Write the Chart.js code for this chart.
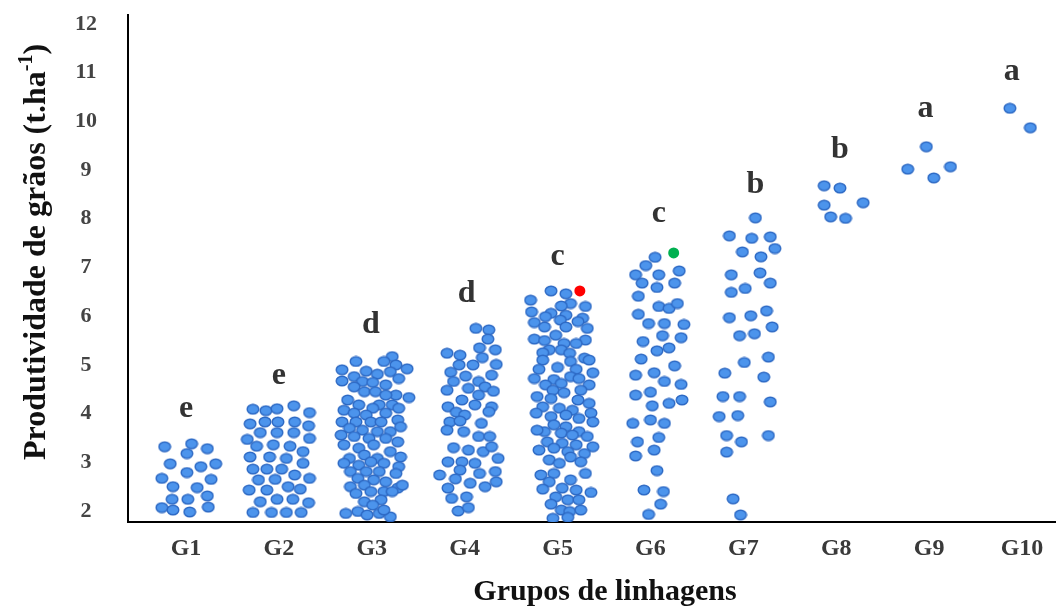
<!DOCTYPE html>
<html>
<head>
<meta charset="utf-8">
<script src="https://cdn.jsdelivr.net/npm/chart.js@4.4.0/dist/chart.umd.min.js"></script>
<style>
  html, body { margin: 0; padding: 0; background: #fff; }
</style>
</head>
<body>
<canvas id="chart" width="1056" height="606"></canvas>
<script>
const groups = ['G1', 'G2', 'G3', 'G4', 'G5', 'G6', 'G7', 'G8', 'G9', 'G10'];
const yTicks = [2, 3, 4, 5, 6, 7, 8, 9, 10, 11, 12];
const letters = ['e', 'e', 'd', 'd', 'c', 'c', 'b', 'b', 'a', 'a'];
const letterShift = [0, 0, -0.01, 0.02, 0, 0.09, 0.13, 0.04, -0.04, -0.11];
const letterBase = [3.93, 4.61, 5.66, 6.29, 7.05, 7.93, 8.53, 9.25, 10.09, 10.85];

// horizontal spread of each dot inside its group, and the yield
const g1Jitter = [-.23,.06,.01,.23,-.17,.16,.32,.01,-.26,.27,-.14,.12,.23,-.15,.02,-.26,-.14,.04,.24];
const g1Yield = [3.32,3.38,3.18,3.28,2.97,2.91,2.97,2.79,2.67,2.65,2.50,2.48,2.31,2.24,2.24,2.07,2.02,1.98,2.08];

const g2Jitter = [-.28,-.14,-.02,.16,.33,-.31,-.15,-.01,.17,.32,-.20,-.02,.16,-.34,.33,-.24,-.06,.12,.26,-.31,-.10,.08,.26,-.28,-.13,.03,.17,.33,-.22,-.04,.10,-.32,-.13,.23,-.20,-.02,.15,.32,-.28,-.08,.08,.24];
const g2Yield = [4.09,4.06,4.10,4.16,4.02,3.79,3.83,3.83,3.83,3.75,3.61,3.61,3.61,3.47,3.49,3.33,3.36,3.33,3.22,3.11,3.11,3.08,2.98,2.86,2.86,2.86,2.74,2.67,2.64,2.65,2.50,2.43,2.43,2.45,2.19,2.24,2.24,2.17,1.97,1.97,1.97,1.97];

const g3Jitter = [.22,.13,-.17,.26,.38,-.32,-.06,.20,.06,.29,-.32,-.19,-.10,.01,.15,-.19,-.08,.04,.40,.26,.15,-.26,-.14,.08,.22,.01,-.30,-.19,-.06,.15,.29,-.32,-.17,-.01,.10,.28,-.24,-.10,.06,.20,.31,-.33,-.19,-.03,.15,.28,-.30,-.14,.02,.20,-.24,-.08,.06,.31,-.30,-.14,-.01,.13,.29,-.23,-.06,.08,.26,-.15,.02,.15,-.08,-.23,-.01,.13,.28,.33,.22,-.17,.10,-.08,.01,-.28,-.15,-.05,.08,.20,.13];
const g3Yield = [5.17,5.07,5.07,5.00,4.92,4.90,4.87,4.86,4.81,4.72,4.67,4.76,4.66,4.64,4.59,4.55,4.45,4.45,4.33,4.38,4.38,4.28,4.18,4.18,4.18,4.11,4.07,4.01,3.97,4.01,4.11,3.83,3.83,3.83,3.83,3.87,3.70,3.66,3.63,3.63,3.73,3.56,3.53,3.49,3.49,3.42,3.36,3.29,3.36,3.22,3.08,3.15,3.08,3.11,2.98,2.94,3.01,2.98,2.91,2.81,2.81,2.81,2.77,2.67,2.64,2.60,2.53,2.50,2.40,2.40,2.47,2.53,2.40,2.36,2.23,2.19,2.12,1.95,1.99,1.92,1.95,1.88,2.02];

const g4Jitter = [.12,.26,.25,-.19,-.05,.16,.33,.19,.09,-.06,.34,-.15,.01,.29,-.12,.15,-.19,.04,.22,.31,.15,-.03,.11,.29,-.18,-.09,.00,.26,-.16,-.05,.18,-.19,-.01,.15,.27,-.12,.04,.20,.29,.36,-.18,-.03,.11,-.27,-.05,.16,.33,-.10,.06,.22,.34,-.18,-.14,.02,-.07,.04];
const g4Yield = [5.75,5.72,5.53,5.24,5.20,5.35,5.31,5.15,5.00,5.00,5.01,4.85,4.77,4.79,4.66,4.66,4.48,4.52,4.55,4.46,4.38,4.28,4.18,4.14,4.14,4.03,3.97,4.04,3.83,3.85,3.80,3.66,3.63,3.53,3.53,3.30,3.25,3.22,3.32,3.08,3.01,3.01,2.98,2.74,2.84,2.77,2.81,2.66,2.57,2.50,2.60,2.47,2.26,2.29,2.00,2.07];

const g5Jitter = [-.07,.09,-.29,.14,.30,.04,-.28,-.07,-.13,.09,.27,.03,.22,-.25,-.14,.09,.32,-.02,-.25,-.14,.30,.07,.20,-.09,.04,-.16,.13,.29,-.16,.14,.34,-.20,.00,.20,.38,-.25,-.04,.14,.23,-.13,.04,.34,-.05,.07,.25,-.22,-.07,.22,.34,-.16,.02,.16,-.23,-.07,.09,.36,.23,.38,-.04,.09,-.14,.23,-.22,.04,.16,.32,-.11,.05,.20,.38,-.20,-.04,.11,.29,-.09,.02,.14,.25,-.18,-.04,.14,.30,-.09,.05,.20,-.16,.36,-.02,.11,.23,-.07,.04,.13,.25,-.05,.11];
const g5Yield = [6.52,6.46,6.33,6.26,6.20,6.21,6.09,6.06,5.99,6.02,5.96,5.92,5.89,5.87,5.78,5.78,5.75,5.61,5.53,5.50,5.51,5.44,5.44,5.31,5.31,5.25,5.24,5.14,5.10,5.07,5.10,4.91,4.95,4.91,4.84,4.72,4.70,4.76,4.72,4.59,4.62,4.59,4.48,4.43,4.48,4.35,4.31,4.28,4.21,4.14,4.11,4.07,4.01,3.94,3.97,4.01,3.90,3.83,3.77,3.73,3.63,3.63,3.66,3.60,3.56,3.53,3.42,3.39,3.36,3.32,3.25,3.29,3.22,3.18,3.05,2.98,3.11,3.01,2.74,2.77,2.64,2.77,2.60,2.47,2.43,2.45,2.38,2.29,2.23,2.23,2.14,2.02,1.99,2.02,1.85,1.87];

const g6Jitter = [.05,-.05,-.16,.09,.31,-.09,.07,.26,-.13,.09,.20,.29,-.13,-.02,.15,.36,.13,.33,-.08,.07,.20,-.10,.26,-.16,.04,.15,.33,-.16,.00,.02,.20,.34,-.19,.00,.15,.09,-.14,.04,-.16,.07,-.07,.14,.11,-.02];
const g6Yield = [7.21,7.04,6.85,6.85,6.93,6.68,6.59,6.68,6.41,6.20,6.16,6.26,6.04,5.85,5.85,5.83,5.60,5.56,5.48,5.29,5.35,5.12,4.98,4.79,4.84,4.66,4.60,4.38,4.44,4.16,4.21,4.28,3.80,3.87,3.80,3.51,3.42,3.25,3.13,2.83,2.43,2.40,2.14,1.93];

const g7Jitter = [.13,-.15,.09,.29,-.01,.19,.34,-.13,.18,.29,-.13,.02,-.15,.08,.25,-.04,.12,.31,.01,.27,-.20,.22,-.22,-.04,.29,-.26,-.06,-.18,-.02,.27,-.18,-.11,-.03];
const g7Yield = [8.02,7.65,7.60,7.63,7.32,7.22,7.39,6.85,6.89,6.68,6.49,6.57,5.97,6.01,6.11,5.60,5.64,5.78,5.05,5.16,4.83,4.75,4.35,4.35,4.24,3.94,3.96,3.55,3.42,3.55,3.21,2.25,1.92];

const g8Jitter = [-.13,.04,-.13,-.06,.10,.29];
const g8Yield = [8.68,8.63,8.28,8.04,8.01,8.33];

const g9Jitter = [-.03,-.23,.05,.23];
const g9Yield = [9.48,9.02,8.84,9.07];

const g10Jitter = [-.13,.09];
const g10Yield = [10.27,9.87];

// the two highlighted lines (red in G5, green in G6)
const highlightGroup = [5, 6];
const highlightJitter = [0.24, 0.25];
const highlightYield = [6.52, 7.30];
const highlightColor = ['#ff0000', '#00b050'];

const jitters = [g1Jitter, g2Jitter, g3Jitter, g4Jitter, g5Jitter, g6Jitter, g7Jitter, g8Jitter, g9Jitter, g10Jitter];
const yields = [g1Yield, g2Yield, g3Yield, g4Yield, g5Yield, g6Yield, g7Yield, g8Yield, g9Yield, g10Yield];

function makeDot() {
  const c = document.createElement('canvas');
  c.width = 14; c.height = 12;
  const g = c.getContext('2d');
  g.beginPath();
  g.ellipse(7, 6, 5.8, 4.8, 0, 0, Math.PI * 2);
  g.fillStyle = '#4c94ec';
  g.fill();
  g.lineWidth = 1.4;
  g.strokeStyle = '#2d69c4';
  g.stroke();
  return c;
}
const dot = makeDot();

const datasets = groups.map((name, i) => ({
  label: name,
  data: yields[i].map((v, k) => ({ x: i + 1 + jitters[i][k], y: v })),
  pointStyle: dot,
  pointRadius: 6,
  pointHoverRadius: 6
}));
datasets.push({
  label: 'destaque',
  data: highlightYield.map((v, k) => ({ x: highlightGroup[k] + highlightJitter[k], y: v })),
  pointStyle: 'circle',
  pointRadius: 5.5,
  pointBorderWidth: 0,
  pointBackgroundColor: highlightColor
});

const serif = '"Liberation Serif", "Times New Roman", serif';

const labelsPlugin = {
  id: 'labelsPlugin',
  afterDraw(chart) {
    const { ctx, scales: { x, y } } = chart;
    ctx.save();
    // letters of the mean comparison test
    ctx.fillStyle = '#333';
    ctx.font = 'bold 32px ' + serif;
    ctx.textAlign = 'center';
    ctx.textBaseline = 'alphabetic';
    letters.forEach((t, i) => {
      ctx.fillText(t, x.getPixelForValue(i + 1 + letterShift[i]), y.getPixelForValue(letterBase[i]));
    });
    // x title
    ctx.fillStyle = '#111';
    ctx.font = 'bold 30px ' + serif;
    ctx.fillText('Grupos de linhagens', 605, 600);
    // y title with superscript
    ctx.translate(45, 252);
    ctx.rotate(-Math.PI / 2);
    const main = 'Produtividade de grãos (t.ha';
    const sup = '-1';
    const close = ')';
    ctx.font = 'bold 32px ' + serif;
    const w1 = ctx.measureText(main).width;
    const w3 = ctx.measureText(close).width;
    ctx.font = 'bold 20px ' + serif;
    const w2 = ctx.measureText(sup).width;
    const start = -(w1 + w2 + w3) / 2;
    ctx.textAlign = 'left';
    ctx.font = 'bold 32px ' + serif;
    ctx.fillText(main, start, 0);
    ctx.fillText(close, start + w1 + w2, 0);
    ctx.font = 'bold 20px ' + serif;
    ctx.fillText(sup, start + w1, -13);
    ctx.restore();
  }
};

new Chart(document.getElementById('chart'), {
  type: 'scatter',
  data: { datasets },
  plugins: [labelsPlugin],
  options: {
    responsive: false,
    animation: false,
    layout: { autoPadding: false, padding: { top: 15, right: 0, left: 0, bottom: 0 } },
    plugins: { legend: { display: false }, tooltip: { enabled: false } },
    scales: {
      x: {
        type: 'linear',
        min: 0.3756,
        max: 10.366,
        afterBuildTicks: (axis) => { axis.ticks = groups.map((g, i) => ({ value: i + 1 })); },
        afterFit: (axis) => { axis.height = 84; axis.paddingLeft = 0; axis.paddingRight = 0; },
        grid: { display: false, drawTicks: false },
        border: { display: true, color: '#000', width: 2 },
        ticks: {
          autoSkip: false,
          maxRotation: 0,
          padding: 12,
          color: '#3a3a3a',
          font: { family: serif, size: 24, weight: 'bold' },
          callback: (v) => groups[v - 1]
        }
      },
      y: {
        min: 1.774,
        max: 12.185,
        afterBuildTicks: (axis) => { axis.ticks = yTicks.map(v => ({ value: v })); },
        afterFit: (axis) => { axis.width = 128; axis.paddingTop = 0; axis.paddingBottom = 0; },
        grid: { display: false, drawTicks: false },
        border: { display: true, color: '#000', width: 2 },
        ticks: {
          crossAlign: 'center',
          padding: 31,
          color: '#444',
          font: { family: serif, size: 22, weight: 'bold' },
          callback: (v) => v
        }
      }
    }
  }
});
</script>
</body>
</html>
